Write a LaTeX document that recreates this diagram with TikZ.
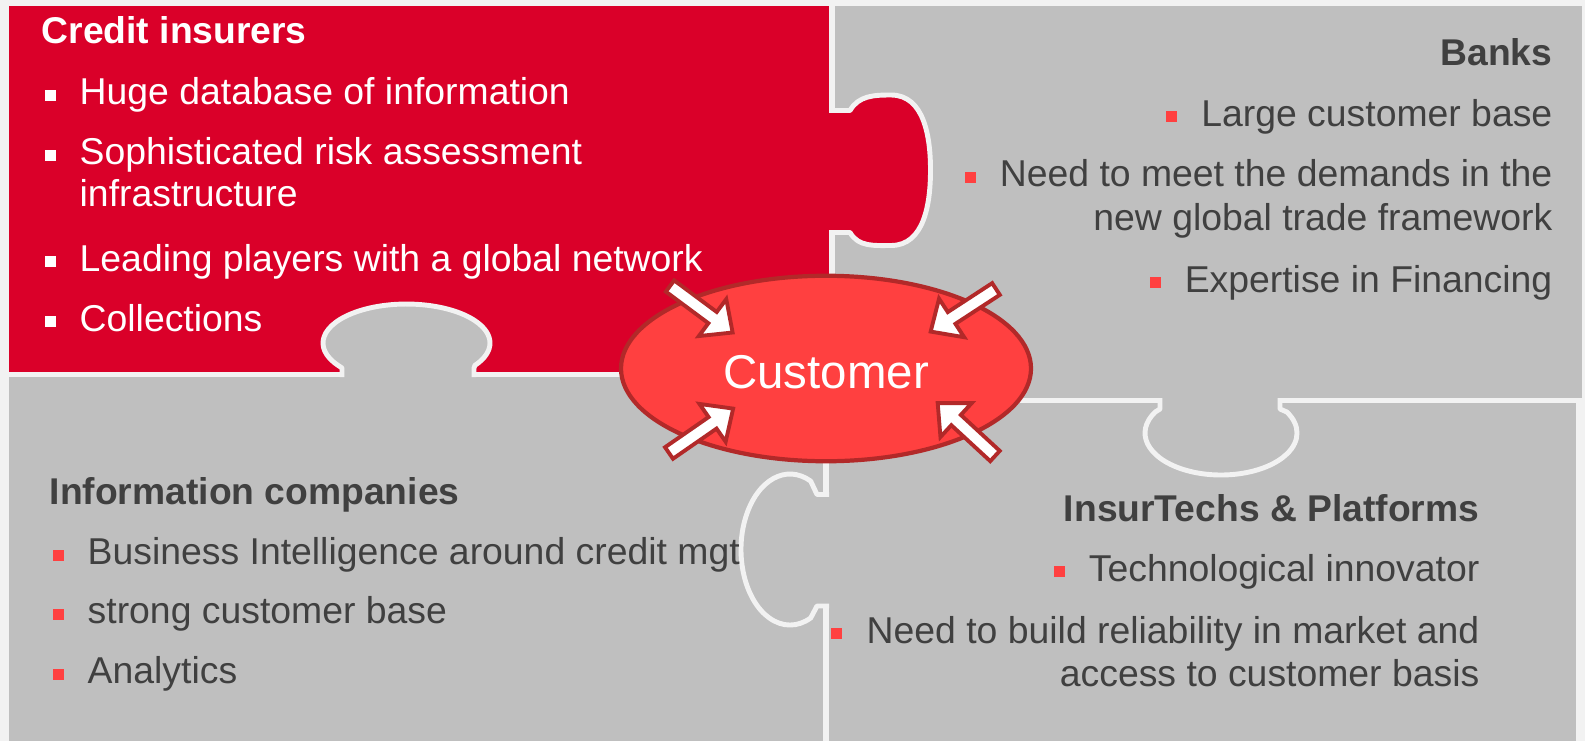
\documentclass[tikz,border=0pt]{standalone}
\usepackage{fontspec}
\setmainfont{Liberation Sans}
\usetikzlibrary{shapes.geometric}
\definecolor{InsClr}{rgb}{0.855,0,0.16}
\definecolor{PieceClr}{rgb}{0.75,0.75,0.75}
\definecolor{SeamClr}{rgb}{0.949,0.949,0.949}
\definecolor{CustClr}{rgb}{1,0.25,0.25}
\definecolor{RimClr}{rgb}{0.7,0.16,0.16}
\definecolor{TxtClr}{rgb}{0.25,0.25,0.25}

\tikzset{
  seam/.style={draw=SeamClr,line width=1.4pt,line join=round},
  ttl/.style={font=\fontsize{10.6}{12}\selectfont\bfseries,text=TxtClr,inner sep=0pt},
  txt/.style={font=\fontsize{10.63}{12}\selectfont,text=TxtClr,inner sep=0pt},
  bul/.style={fill=CustClr,minimum size=.11cm,inner sep=0pt},
  inarrow/.pic={\filldraw[fill=white,draw=RimClr,line width=1.1pt]
    (0,-.07) -- (.53,-.07) -- (.53,-.23) -- (.78,0) -- (.53,.23) -- (.53,.07) -- (0,.07) -- cycle;}
}

\begin{document}
\begin{tikzpicture}
\useasboundingbox (0,0) rectangle (15.85,7.41);
\fill[SeamClr] (0,0) rectangle (15.85,7.41);

\fill[InsClr] (.09,3.69) rectangle (8.29,7.35);
\fill[PieceClr] (8.35,3.43) rectangle (15.82,7.35);
\fill[PieceClr] (.09,0) rectangle (8.23,3.64);
\fill[PieceClr] (8.29,0) rectangle (15.76,3.38);

\filldraw[fill=PieceClr,seam] (3.42,3.64) -- (3.42,3.73) -- (3.381,3.756)
  arc[start angle=215,end angle=-35,x radius=.835,y radius=.39] -- (4.74,3.73) -- (4.74,3.64);
\filldraw[fill=InsClr,seam] (8.29,6.305) -- (8.50,6.305) to[out=60,in=180] (8.91,6.46)
  to[out=0,in=90] (9.305,5.71) to[out=-90,in=0] (8.91,4.955) to[out=180,in=-60] (8.50,5.085) -- (8.29,5.085);
\filldraw[fill=PieceClr,seam] (11.60,3.43) -- (11.60,3.32) -- (11.552,3.29)
  arc[start angle=150,end angle=390,x radius=.76,y radius=.42] -- (12.80,3.32) -- (12.80,3.43);
\filldraw[fill=PieceClr,seam] (8.29,2.465) -- (8.17,2.465) -- (8.107,2.599)
  arc[start angle=65,end angle=295,x radius=.49,y radius=.755] -- (8.17,1.35) -- (8.29,1.35);

\node[ellipse,draw=RimClr,fill=CustClr,line width=1.2pt,minimum width=4.1cm,minimum height=1.855cm,
  inner sep=0pt,text height=.41cm,text=white,font=\fontsize{13.5}{16}\selectfont] (cust) at (8.26,3.725) {Customer};

\pic[rotate=-36.6] at (6.70,4.55) {inarrow};
\pic[rotate=-146.9] at (9.96,4.52) {inarrow};
\pic[rotate=34.7] at (6.69,2.88) {inarrow};
\pic[rotate=137.3] at (9.95,2.85) {inarrow};

\node[ttl,text=white,anchor=base west] (ci) at (.41,6.98) {Credit insurers};
\node[txt,text=white,anchor=base west] (ci1) at (.79,6.365) {Huge database of information};
\node[txt,text=white,anchor=base west] (ci2) at (.79,5.765) {Sophisticated risk assessment};
\node[txt,text=white,anchor=base west] (ci2b) at (.79,5.35) {infrastructure};
\node[txt,text=white,anchor=base west] (ci3) at (.79,4.70) {Leading players with a global network};
\node[txt,text=white,anchor=base west] (ci4) at (.79,4.10) {Collections};

\node[ttl,anchor=base east] (bk) at (15.53,6.757) {Banks};
\node[txt,anchor=base east] (bk1) at (15.53,6.15) {Large customer base};
\node[txt,anchor=base east] (bk2) at (15.53,5.545) {Need to meet the demands in the};
\node[txt,anchor=base east] (bk2b) at (15.53,5.107) {new global trade framework};
\node[txt,anchor=base east] (bk3) at (15.53,4.49) {Expertise in Financing};

\node[ttl,anchor=base west] (ic) at (.49,2.363) {Information companies};
\node[txt,anchor=base west] (ic1) at (.87,1.765) {Business Intelligence around credit mgt};
\node[txt,anchor=base west] (ic2) at (.87,1.175) {strong customer base};
\node[txt,anchor=base west] (ic3) at (.87,.575) {Analytics};

\node[ttl,anchor=base east] (it) at (14.80,2.20) {InsurTechs \& Platforms};
\node[txt,anchor=base east] (it1) at (14.80,1.60) {Technological innovator};
\node[txt,anchor=base east] (it2) at (14.80,.978) {Need to build reliability in market and};
\node[txt,anchor=base east] (it2b) at (14.80,.548) {access to customer basis};

\foreach \n in {ci1,ci2,ci3,ci4}
  \node[bul,fill=white] (b\n) at ([shift={(-.29,.095)}]\n.base west) {};
\foreach \n in {bk1,bk2,bk3,ic1,ic2,ic3,it1,it2}
  \node[bul] (b\n) at ([shift={(-.29,.095)}]\n.base west) {};
\end{tikzpicture}
\end{document}
